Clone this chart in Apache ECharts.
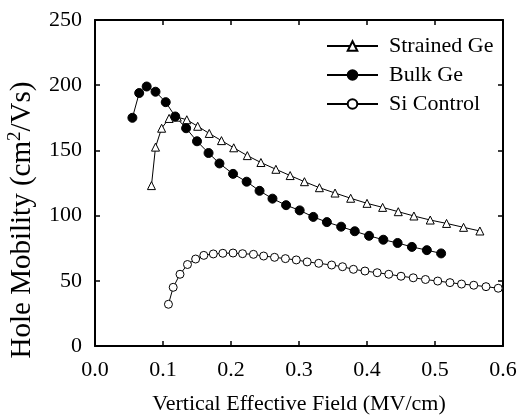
<!DOCTYPE html>
<html>
<head>
<meta charset="utf-8">
<script src="https://cdn.jsdelivr.net/npm/echarts@6/dist/echarts.min.js"></script>
<style>
  html, body { margin: 0; padding: 0; background: #fff; }
  #chart { width: 519px; height: 416px; }
</style>
</head>
<body>
<div id="chart"></div>
<script>
// x: vertical effective field (MV/cm), y: hole mobility (cm2/Vs)
const strainedX = [0.083, 0.089, 0.098, 0.109, 0.121, 0.135, 0.151, 0.168, 0.186, 0.204, 0.224, 0.244, 0.266,
  0.287, 0.308, 0.330, 0.353, 0.376, 0.400, 0.423, 0.446, 0.469, 0.493, 0.517, 0.542, 0.566];
const strainedY = [123, 152.5, 167, 174.5, 175.5, 173.5, 168.5, 163, 157.5, 152, 146, 140.7, 135.5,
  130.7, 126, 121.4, 117.3, 113.3, 109.4, 106.3, 103, 99.7, 96.6, 94, 91, 88.2];

const bulkX = [0.055, 0.065, 0.076, 0.089, 0.104, 0.118, 0.134, 0.150, 0.167, 0.183, 0.203, 0.223, 0.242,
  0.261, 0.281, 0.301, 0.321, 0.341, 0.362, 0.382, 0.403, 0.424, 0.445, 0.466, 0.488, 0.509];
const bulkY = [175, 194, 199, 195, 187, 176, 167, 157, 148, 140, 132, 126, 119,
  113, 108, 104, 99, 95, 91.5, 88, 84.5, 81.5, 79, 76, 73.5, 71];

const siX = [0.108, 0.115, 0.125, 0.136, 0.148, 0.160, 0.174, 0.188, 0.203, 0.217, 0.233, 0.248, 0.264,
  0.280, 0.296, 0.312, 0.329, 0.348, 0.364, 0.380, 0.397, 0.415, 0.432, 0.450, 0.468, 0.486,
  0.504, 0.522, 0.539, 0.557, 0.575, 0.593];
const siY = [32, 45, 55, 62.5, 66.7, 69.5, 70.6, 71.1, 71.3, 70.8, 70.3, 69, 68,
  67, 66, 64.5, 63.4, 62.1, 60.8, 58.8, 57.5, 56.2, 55, 53.5, 52.3, 51,
  49.8, 48.6, 47.5, 46.6, 45.5, 44.3];

const seriesNames = ['Strained Ge', 'Bulk Ge', 'Si Control'];

const font = 'Liberation Serif';
const zip = (xs, ys) => xs.map((x, i) => [x, ys[i]]);

const chart = echarts.init(document.getElementById('chart'), null, {renderer: 'canvas'});

// frame axes: ticks inside, drawn on all four sides
const frameAxis = (extra) => Object.assign({
  axisLine: {show: true, onZero: false, lineStyle: {color: '#000', width: 2}},
  axisTick: {show: true, inside: true, length: 5, lineStyle: {color: '#000', width: 1.5}},
  splitLine: {show: false}
}, extra);

const option = {
  backgroundColor: '#fff',
  animation: false,
  textStyle: {fontFamily: font, color: '#000'},
  grid: {left: 95, right: 16, top: 20, bottom: 70, containLabel: false, outerBoundsMode: 'none'},
  legend: {
    orient: 'vertical',
    left: 321,
    top: 30,
    itemWidth: 51,
    itemHeight: 12,
    itemGap: 7,
    data: seriesNames,
    textStyle: {fontFamily: font, fontSize: 22, lineHeight: 22, color: '#000', padding: [0, 0, 0, 6]}
  },
  xAxis: [
    frameAxis({
      type: 'value', min: 0, max: 0.6, interval: 0.1, position: 'bottom',
      name: 'Vertical Effective Field (MV/cm)', nameLocation: 'middle', nameGap: 47,
      nameTextStyle: {fontFamily: font, fontSize: 22, color: '#000'},
      axisLabel: {fontFamily: font, fontSize: 22, color: '#000', margin: 13,
        formatter: v => v.toFixed(1)}
    }),
    frameAxis({type: 'value', min: 0, max: 0.6, interval: 0.1, position: 'top', axisLabel: {show: false}})
  ],
  yAxis: [
    frameAxis({
      type: 'value', min: 0, max: 250, interval: 50, position: 'left',
      name: '{n|Hole Mobility (cm}{s|2}{n|/Vs)}', nameLocation: 'middle', nameGap: 57,
      nameTextStyle: {
        fontFamily: font, color: '#000', padding: [0, 74, 0, 0],
        rich: {
          n: {fontFamily: font, fontSize: 29, color: '#000', lineHeight: 32},
          s: {fontFamily: font, fontSize: 19, color: '#000', verticalAlign: 'top', lineHeight: 20}
        }
      },
      axisLabel: {fontFamily: font, fontSize: 22, color: '#000', margin: 13}
    }),
    frameAxis({type: 'value', min: 0, max: 250, interval: 50, position: 'right', axisLabel: {show: false}})
  ],
  series: [
    {
      name: seriesNames[0], type: 'line', data: zip(strainedX, strainedY),
      symbol: 'triangle', symbolSize: 8,
      lineStyle: {color: '#000', width: 1},
      itemStyle: {color: '#fff', borderColor: '#000', borderWidth: 1}
    },
    {
      name: seriesNames[1], type: 'line', data: zip(bulkX, bulkY),
      symbol: 'circle', symbolSize: 9,
      lineStyle: {color: '#000', width: 1},
      itemStyle: {color: '#000', borderColor: '#000', borderWidth: 1}
    },
    {
      name: seriesNames[2], type: 'line', data: zip(siX, siY),
      symbol: 'circle', symbolSize: 8,
      lineStyle: {color: '#000', width: 1},
      itemStyle: {color: '#fff', borderColor: '#000', borderWidth: 1}
    }
  ]
};

chart.setOption(option);
</script>
</body>
</html>
